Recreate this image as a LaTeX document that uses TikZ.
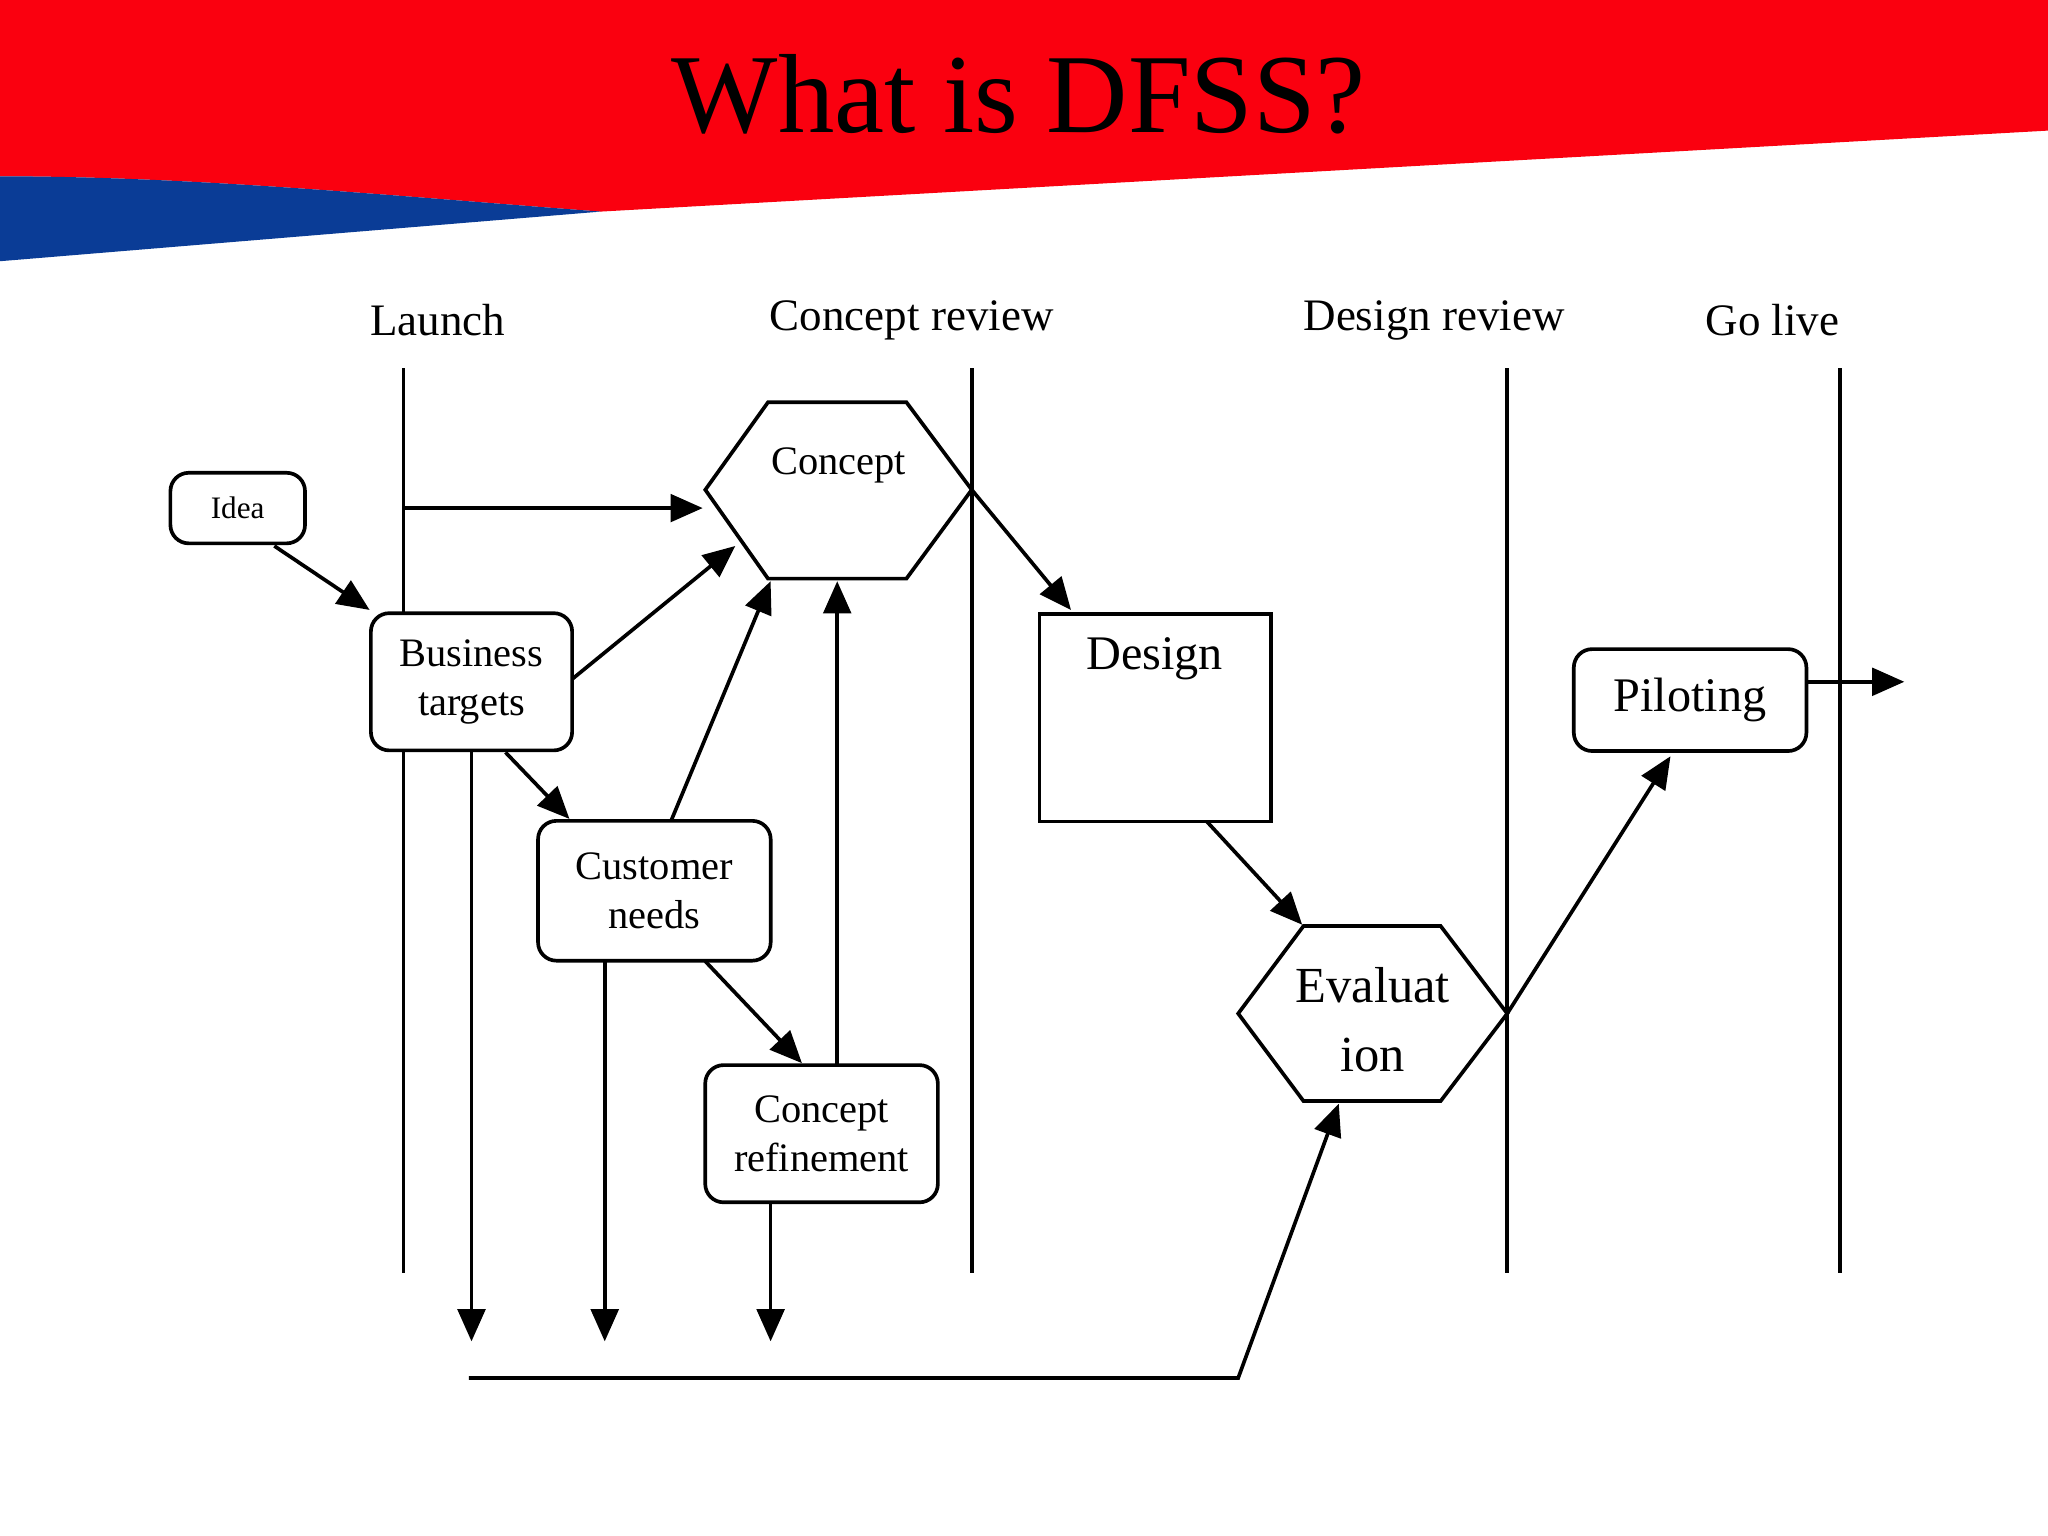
\documentclass[tikz,border=0pt]{standalone}
\usepackage{fontspec}
\setmainfont{Liberation Serif}
\usetikzlibrary{arrows.meta}
\definecolor{hdrblue}{RGB}{10,60,150}
\definecolor{hdrred}{RGB}{250,0,15}
\tikzset{
 ln/.style={line width=0.8pt},
 ar/.style={line width=0.8pt,-{Triangle[length=7pt,width=6pt]}},
 rbox/.style={draw,line width=0.8pt,rounded corners=4pt,align=center,inner sep=0pt,fill=white},
 lab/.style={font=\fontsize{9.8}{12}\selectfont},
 txt/.style={align=center,font=\fontsize{8.8}{10.8}\selectfont}
}
\begin{document}
\begin{tikzpicture}[x=0.01cm,y=-0.01cm]
\useasboundingbox (0,0) rectangle (1568,1176);
\fill[white] (0,0) rectangle (1568,1176);
\fill[hdrred] (0,0) -- (1568,0) -- (1568,100) -- (460,162) .. controls (300,150) and (150,135) .. (0,135) -- cycle;
\fill[hdrblue] (0,135) .. controls (150,135) and (300,150) .. (460,162) -- (0,200) -- cycle;
\node (title) at (780,72) {\fontsize{24.5}{28}\selectfont What is DFSS?};
% labels
\node[lab] (l1) at (335,245) {Launch};
\node[lab] (l2) at (698,245) {Concept review};
\node[lab] (l3) at (1098,245) {Design review};
\node[lab] (l4) at (1357,245) {Go live};
% vertical lines
\foreach \x/\n in {309/a,744/b,1154/c,1409/d}{
 \coordinate (v\n t) at (\x,282); \coordinate (v\n b) at (\x,975);
 \draw[ln] (v\n t) -- (v\n b);}
% nodes
\node[rbox,font=\fontsize{6.8}{8}\selectfont,minimum width=1.03cm,minimum height=0.54cm] (idea) at (182,389) {Idea};
\node[rbox,txt,minimum width=1.54cm,minimum height=1.05cm] (bt) at (361,522) {Business\\targets};
\node[rbox,txt,minimum width=1.78cm,minimum height=1.07cm] (cn) at (501,682) {Customer\\needs};
\node[rbox,txt,minimum width=1.78cm,minimum height=1.05cm] (cr) at (629,868) {Concept\\refinement};
\node[draw,line width=0.8pt,minimum width=1.77cm,minimum height=1.59cm] (des) at (884.5,549.5) {};
\node[txt,font=\fontsize{10.5}{13}\selectfont] (dest) at (884,504) {Design};
\node[rbox,txt,font=\fontsize{10.5}{13}\selectfont,minimum width=1.78cm,minimum height=0.78cm] (pil) at (1294,536) {Piloting};
% hexagons
\draw[ln] (540,375) -- (588,308) -- (694,308) -- (744,375) -- (694,443) -- (588,443) -- cycle;
\coordinate (cr_v) at (744,375);
\node[txt] (con) at (642,356) {Concept};
\draw[ln] (948,776) -- (998,709) -- (1103,709) -- (1154,776) -- (1103,843) -- (998,843) -- cycle;
\coordinate (ev_v) at (1154,776);
\node[txt,font=\fontsize{11}{15}\selectfont] (ev) at (1051,781) {Evaluat\\ion};
% arrows
\coordinate (c1) at (309,389); \coordinate (c2) at (538,389);
\coordinate (pe) at (1383,522); \coordinate (pa) at (1458,522);
\draw[ar] (210,418) -- (283,467);
\draw[ar] (c1) -- (c2);
\draw[ar] (438,520) -- (563,418);
\draw[ar] (514,628) -- (590,445);
\draw[ar] (641,815) -- (641,445);
\draw[ar] (cr_v) -- (820,467);
\draw[ar] (387,576) -- (436,627);
\draw[ar] (540,736) -- (614,814);
\draw[ar] (924,629) -- (997,708);
\draw[ar] (ev_v) -- (1279,579);
\draw[ar] (pe) -- (pa);
\draw[ar] (361,575) -- (361,1027);
\draw[ar] (463,736) -- (463,1027);
\draw[ar] (590,921) -- (590,1027);
\draw[ar] (359,1055) -- (948,1055) -- (1025,845);
\end{tikzpicture}
\end{document}
